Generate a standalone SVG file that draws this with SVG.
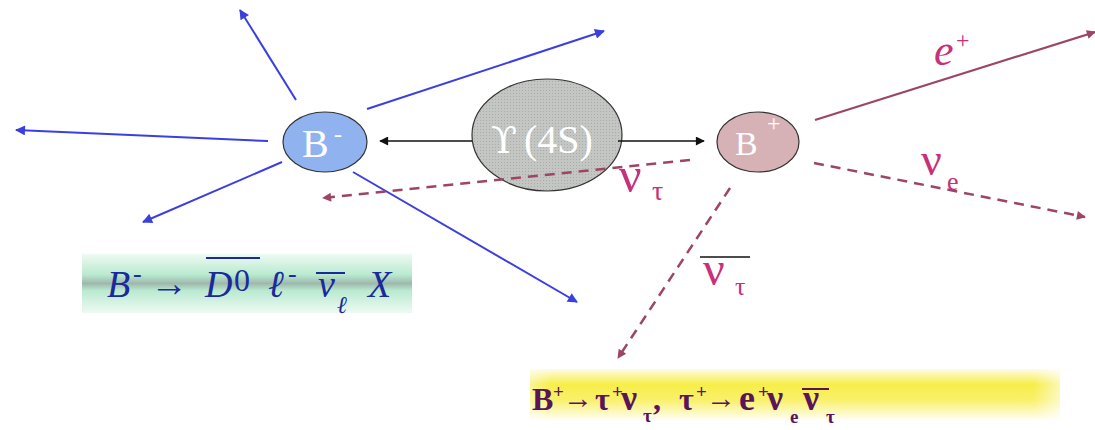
<svg xmlns="http://www.w3.org/2000/svg" width="1095" height="430" viewBox="0 0 1095 430">
<style>
.blue{stroke:#3b3fe0;stroke-width:2;fill:none;marker-end:url(#mb)}
.blk{stroke:#111;stroke-width:1.5;fill:none;marker-end:url(#mk)}
.dash{stroke:#9c4566;stroke-width:2.5;fill:none;stroke-dasharray:10 7;marker-end:url(#mm)}
.sol{stroke:#9c4566;stroke-width:2.2;fill:none;marker-end:url(#mm)}
.lab{font-family:"Liberation Serif",serif;fill:#c8307a}
.node{font-family:"Liberation Serif",serif;fill:#fff}
.f1{font-family:"Liberation Serif",serif;font-style:italic;fill:#1a2a9a}
.f2{font-family:"Liberation Serif",serif;font-weight:bold;fill:#5a1458}
</style>
<defs>
<marker id="mb" viewBox="0 0 10 10" refX="9" refY="5" markerWidth="13" markerHeight="10" markerUnits="userSpaceOnUse" orient="auto"><path d="M0,0L10,5L0,10z" fill="#3b3fe0"/></marker>
<marker id="mk" viewBox="0 0 10 10" refX="9" refY="5" markerWidth="13" markerHeight="9" markerUnits="userSpaceOnUse" orient="auto"><path d="M0,0L10,5L0,10z" fill="#111"/></marker>
<marker id="mm" viewBox="0 0 10 10" refX="9" refY="5" markerWidth="13" markerHeight="9" markerUnits="userSpaceOnUse" orient="auto"><path d="M0,0L10,5L0,10z" fill="#9c4566"/></marker>
<linearGradient id="gg" x1="0" y1="0" x2="0" y2="1">
<stop offset="0" stop-color="#eefaf2"/><stop offset="0.35" stop-color="#b9ead0"/><stop offset="0.5" stop-color="#9fb8ae"/><stop offset="0.62" stop-color="#b9ead0"/><stop offset="1" stop-color="#eefaf4"/>
</linearGradient>
<linearGradient id="yg" x1="0" y1="0" x2="0" y2="1">
<stop offset="0" stop-color="#fffbe6"/><stop offset="0.3" stop-color="#f7ee4a"/><stop offset="0.6" stop-color="#f9f06a"/><stop offset="1" stop-color="#fffef4"/>
</linearGradient>
<linearGradient id="yfade" x1="0" y1="0" x2="1" y2="0">
<stop offset="0" stop-color="#fff" stop-opacity="0.4"/><stop offset="0.04" stop-color="#fff" stop-opacity="0"/><stop offset="0.95" stop-color="#fff" stop-opacity="0"/><stop offset="1" stop-color="#fff" stop-opacity="0.6"/>
</linearGradient>
<pattern id="dots" width="3" height="3" patternUnits="userSpaceOnUse"><rect width="3" height="3" fill="#c3c6c3"/><rect width="1" height="1" fill="#a8aca8"/></pattern>
</defs>
<rect width="1095" height="430" fill="#fff"/>

<g id="formula-left">
<rect x="82" y="254" width="330" height="59" fill="url(#gg)"/>
<text class="f1" font-size="38"><tspan x="107" y="297">B</tspan><tspan x="133" y="282" font-size="26" font-style="normal">-</tspan><tspan x="150" y="296" font-style="normal">→</tspan><tspan x="205" y="297">D</tspan><tspan x="234" y="291" font-size="32" font-style="normal">0</tspan><tspan x="268" y="297">ℓ</tspan><tspan x="288" y="282" font-size="26" font-style="normal">-</tspan><tspan x="318" y="297">ν</tspan><tspan x="337" y="313" font-size="24">ℓ</tspan><tspan x="368" y="297">X</tspan></text>
<line x1="206" y1="258" x2="260" y2="258" stroke="#1a2a9a" stroke-width="2"/>
<line x1="316" y1="273" x2="345" y2="273" stroke="#1a2a9a" stroke-width="2"/>
</g>

<g id="formula-right">
<rect x="530" y="369" width="530" height="51" fill="url(#yg)"/>
<rect x="530" y="369" width="530" height="51" fill="url(#yfade)"/>
<text class="f2" font-size="32"><tspan x="532" y="410">B</tspan><tspan x="553" y="398" font-size="19">+</tspan><tspan x="563" y="408" font-size="30">→</tspan><tspan x="595" y="410">τ</tspan><tspan x="612" y="398" font-size="19">+</tspan><tspan x="621" y="410" font-size="36">ν</tspan><tspan x="643" y="422" font-size="19">τ</tspan><tspan x="653" y="410">,</tspan><tspan x="679" y="410">τ</tspan><tspan x="696" y="398" font-size="19">+</tspan><tspan x="706" y="408" font-size="30">→</tspan><tspan x="739" y="410" font-size="36">e</tspan><tspan x="758" y="398" font-size="19">+</tspan><tspan x="767" y="410" font-size="36">ν</tspan><tspan x="790" y="423" font-size="19">e</tspan><tspan x="803" y="410" font-size="36">ν</tspan><tspan x="826" y="423" font-size="19">τ</tspan></text>
<line x1="802" y1="389" x2="829" y2="389" stroke="#5a1458" stroke-width="2"/>
</g>

<g id="node-Bminus">
<ellipse cx="325" cy="142" rx="42" ry="30" fill="#90b2ee" stroke="#333" stroke-width="1.2"/>
<text class="node" font-size="40"><tspan x="302" y="157">B</tspan><tspan x="334" y="142" font-size="24">-</tspan></text>
</g>

<g id="node-Y4S">
<ellipse cx="547" cy="135" rx="75" ry="56" fill="url(#dots)" stroke="#333" stroke-width="1.2"/>
<text class="node" font-size="40" fill="#f0f0f0"><tspan x="491" y="153" font-family="DejaVu Serif" font-size="38">ϒ</tspan><tspan x="524" y="153">(4S)</tspan></text>
</g>

<g id="node-Bplus">
<ellipse cx="758" cy="142" rx="41" ry="30" fill="#d6b2b6" stroke="#333" stroke-width="1.2"/>
<text class="node" font-size="34"><tspan x="735" y="155">B</tspan><tspan x="767" y="131" font-size="24">+</tspan></text>
</g>

<g id="connectors">
<line class="blue" x1="296" y1="100" x2="240" y2="10"/>
<line class="blue" x1="268" y1="141" x2="16" y2="130"/>
<line class="blue" x1="282" y1="162" x2="143" y2="222"/>
<line class="blue" x1="367" y1="109" x2="604" y2="31"/>
<line class="blue" x1="353" y1="172" x2="577" y2="302"/>
<line class="blk" x1="472" y1="141" x2="380" y2="141"/>
<line class="blk" x1="618" y1="141" x2="704" y2="141"/>
<line class="dash" x1="690" y1="160" x2="323" y2="198"/>
<line class="dash" x1="814" y1="163" x2="1085" y2="217"/>
<line class="dash" x1="730" y1="188" x2="618" y2="358"/>
<line class="sol" x1="815" y1="120" x2="1095" y2="32"/>
</g>

<g id="labels">
<text class="lab" font-size="44" font-style="italic"><tspan x="934" y="65">e</tspan><tspan x="956" y="48" font-size="24" font-style="normal">+</tspan></text>
<text class="lab" font-size="46"><tspan x="921" y="175">ν</tspan><tspan x="947" y="190" font-size="26">e</tspan></text>
<text class="lab" font-size="50"><tspan x="619" y="192">ν</tspan><tspan x="652" y="200" font-size="28">τ</tspan></text>
<text class="lab" font-size="48"><tspan x="703" y="285">ν</tspan><tspan x="735" y="295" font-size="26">τ</tspan></text>
<line x1="700" y1="257" x2="750" y2="257" stroke="#111" stroke-width="1.5"/>
</g>
</svg>
